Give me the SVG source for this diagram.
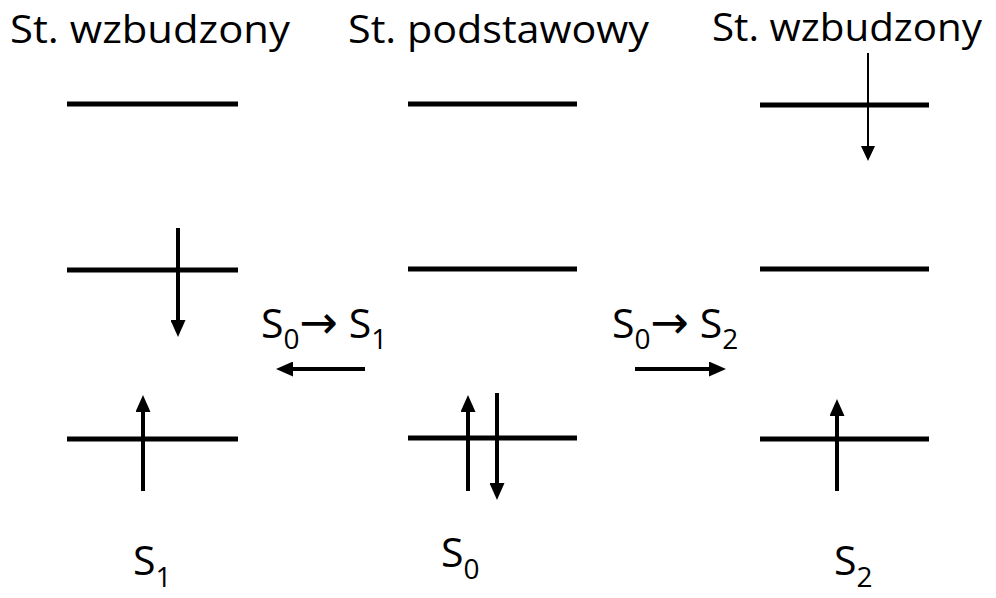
<svg xmlns="http://www.w3.org/2000/svg" width="996" height="598" viewBox="0 0 996 598">
<style>
text{font-family:"Open Sans","Liberation Sans",sans-serif;fill:#000}
.t{font-size:39px}
.l{font-size:41px}
.sub{font-size:28px}
.arr{font-family:"DejaVu Sans",sans-serif;font-size:46px}
.lvl{stroke:#000;stroke-width:5;fill:none}
.a{stroke:#000;stroke-width:4;fill:none;marker-end:url(#ah)}
.a2{stroke:#000;stroke-width:2;fill:none;marker-end:url(#ah2)}
</style>
<defs>
<marker id="ah" markerUnits="userSpaceOnUse" markerWidth="17" markerHeight="15" refX="0" refY="7.5" orient="auto"><path d="M0,0 L17,7.5 L0,15 z" fill="#000"/></marker>
<marker id="ah2" markerUnits="userSpaceOnUse" markerWidth="15" markerHeight="14" refX="0" refY="7" orient="auto"><path d="M0,0 L15,7 L0,14 z" fill="#000"/></marker>
</defs>
<g id="titles">
<text class="t" x="10" y="43" textLength="280" lengthAdjust="spacingAndGlyphs">St. wzbudzony</text>
<text class="t" x="348" y="43" textLength="301" lengthAdjust="spacingAndGlyphs">St. podstawowy</text>
<text class="t" x="712" y="41" textLength="270" lengthAdjust="spacingAndGlyphs">St. wzbudzony</text>
</g>
<g id="S1">
<line class="lvl" x1="67" y1="104" x2="238" y2="104"/>
<line class="lvl" x1="67" y1="270" x2="238" y2="270"/>
<line class="lvl" x1="67" y1="439" x2="238" y2="439"/>
<line class="a" x1="178" y1="228" x2="178" y2="320"/>
<line class="a" x1="143" y1="491" x2="143" y2="412"/>
<text class="l" x="133" y="575">S<tspan class="sub" dy="12">1</tspan></text>
</g>
<g id="S0">
<line class="lvl" x1="408" y1="104" x2="577" y2="104"/>
<line class="lvl" x1="408" y1="269" x2="577" y2="269"/>
<line class="lvl" x1="408" y1="438" x2="577" y2="438"/>
<line class="a" x1="468" y1="491" x2="468" y2="412"/>
<line class="a" x1="497" y1="393" x2="497" y2="483"/>
<text class="l" x="441" y="567">S<tspan class="sub" dy="12">0</tspan></text>
</g>
<g id="S2">
<line class="lvl" x1="760" y1="105" x2="929" y2="105"/>
<line class="lvl" x1="760" y1="269" x2="929" y2="269"/>
<line class="lvl" x1="760" y1="439" x2="929" y2="439"/>
<line class="a2" x1="868" y1="53" x2="868" y2="146"/>
<line class="a" x1="837" y1="491" x2="837" y2="416"/>
<text class="l" x="834" y="575">S<tspan class="sub" dy="12">2</tspan></text>
</g>
<g id="connectors">
<line class="a" x1="365" y1="369" x2="293" y2="369"/>
<line class="a" x1="635" y1="369" x2="709" y2="369"/>
<text class="l" x="261" y="338">S<tspan class="sub" dy="11">0</tspan><tspan class="arr" dy="-11">→</tspan><tspan> S</tspan><tspan class="sub" dy="11">1</tspan></text>
<text class="l" x="612" y="338">S<tspan class="sub" dy="11">0</tspan><tspan class="arr" dy="-11">→</tspan><tspan> S</tspan><tspan class="sub" dy="11">2</tspan></text>
</g>
</svg>
